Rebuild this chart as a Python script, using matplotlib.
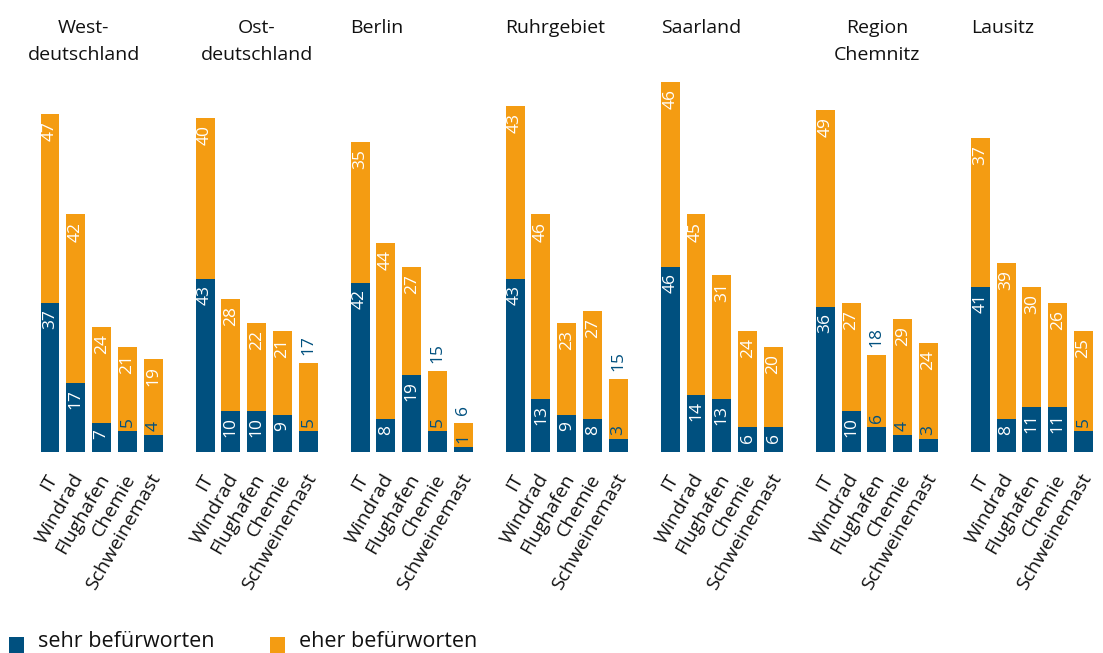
import matplotlib
matplotlib.use('Agg')
import matplotlib.pyplot as plt
from matplotlib.patches import Rectangle

plt.rcParams['font.family'] = ['Open Sans', 'DejaVu Sans']

############## Daten ####################

gruppen = ['West-\ndeutschland', 'Ost-\ndeutschland', 'Berlin', 'Ruhrgebiet',
           'Saarland', 'Region\nChemnitz', 'Lausitz']
kategorien = ['IT', 'Windrad', 'Flughafen', 'Chemie', 'Schweinemast']

sehr = [[37, 17, 7, 5, 4],
        [43, 10, 10, 9, 5],
        [42, 8, 19, 5, 1],
        [43, 13, 9, 8, 3],
        [46, 14, 13, 6, 6],
        [36, 10, 6, 4, 3],
        [41, 8, 11, 11, 5]]

eher = [[47, 42, 24, 21, 19],
        [40, 28, 22, 21, 17],
        [35, 44, 27, 15, 6],
        [43, 46, 23, 27, 15],
        [46, 45, 31, 24, 20],
        [49, 27, 18, 29, 24],
        [37, 39, 30, 26, 25]]

legende = ['sehr befürworten', 'eher befürworten']

############## Stil ####################

blau = '#00507f'
orange = '#f49c12'
W, H = 1103, 653
base_px = 451.5          # Grundlinie in Pixel von oben
px_per_unit = 4.018
slot_px = 25.84
x0_px = 50
breite = 0.735

fig = plt.figure(figsize=(W / 100, H / 100), dpi=100)
ax = fig.add_axes([0, 1 - base_px / H, 1, base_px / H])
ax.set_xlim(-x0_px / slot_px, (W - x0_px) / slot_px)
ax.set_ylim(0, base_px / px_per_unit)
ax.axis('off')

for g, name in enumerate(gruppen):
    for i, kat in enumerate(kategorien):
        x = g * 6 + i
        s = sehr[g][i]
        e = eher[g][i]
        ax.bar(x, s, width=breite, color=blau, linewidth=0)
        ax.bar(x, e, bottom=s, width=breite, color=orange, linewidth=0)

        # Wert "sehr"
        if s <= 5 or (g == 5 and i == 2):
            ax.text(x, s + 1.0, str(s), rotation=90, ha='center', va='bottom',
                    color=blau, fontsize=12.5)
        else:
            ax.text(x, s - 1.5, str(s), rotation=90, ha='center', va='top',
                    color='white', fontsize=12.5)

        # Wert "eher"
        if e < 19:
            ax.text(x, s + e + 2.0, str(e), rotation=90, ha='center', va='bottom',
                    color=blau, fontsize=12.5)
        else:
            ax.text(x, s + e - 1.8, str(e), rotation=90, ha='center', va='top',
                    color='white', fontsize=12.5)

        # Kategorie
        ax.text(x - 0.17, -4.8, kat, rotation=60, rotation_mode='anchor',
                ha='right', va='top', fontsize=14, color='#111111', clip_on=False)

    # Gruppentitel
    y_titel = (base_px - 19) / px_per_unit
    if '\n' in name:
        xt = g * 6 + 2
        if g == 0:
            xt -= 0.7
        ax.text(xt, y_titel, name, ha='center', va='top', fontsize=14,
                color='#111111', linespacing=1.62, multialignment='center')
    else:
        ax.text(g * 6 - breite / 2, y_titel, name, ha='left', va='top',
                fontsize=14, color='#111111')

ax.axhline(-0.5, xmin=12 / W, xmax=1, color=orange, linewidth=3.6, zorder=0)

############## Legende ####################

for k, (lab, col) in enumerate(zip(legende, [blau, orange])):
    lx = 9 + k * 261
    fig.add_artist(Rectangle((lx / W, -5 / H), 15 / W, 21 / H,
                             transform=fig.transFigure, color=col, linewidth=0))
    fig.text((lx + 29) / W, 6 / H, lab, ha='left', va='baseline',
             fontsize=15.5, color='#111111')

fig.savefig('out.png', dpi=100)
